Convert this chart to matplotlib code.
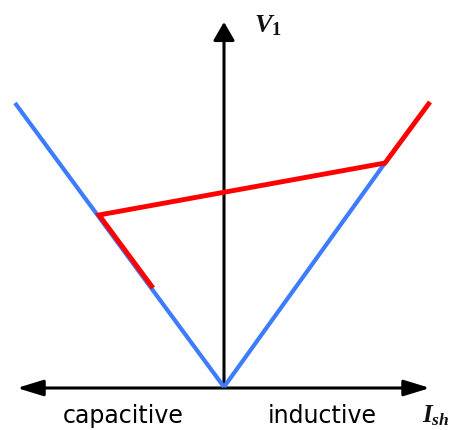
import matplotlib
matplotlib.use("Agg")
import matplotlib.pyplot as plt
from matplotlib.patches import FancyArrowPatch

plt.rcParams['mathtext.fontset'] = 'custom'
plt.rcParams['mathtext.it'] = 'Liberation Serif:italic:bold'
plt.rcParams['mathtext.rm'] = 'Liberation Serif:bold'

# characteristic lines (origin at the axes crossing)
blue_left_x = [0, -209]
blue_left_y = [0, 284]
blue_right_x = [0, 161]
blue_right_y = [0, 224]

red_x = [-71, -125, 161, 206]
red_y = [99, 172, 224, 285]

x_axis = (-207, 206)
y_axis_top = 365

fig = plt.figure(figsize=(4.73, 4.30), dpi=100)
ax = fig.add_axes([0, 0, 1, 1])
ax.set_xlim(-224, 249)
ax.set_ylim(-43, 387)
ax.axis('off')

# axes arrows
ax.add_patch(FancyArrowPatch((x_axis[0], -1), (x_axis[1], -1),
                             arrowstyle='<|-|>,head_length=0.88,head_width=0.27',
                             mutation_scale=18, color='black', lw=2.2,
                             shrinkA=0, shrinkB=0, zorder=1))
ax.add_patch(FancyArrowPatch((0, 0), (0, y_axis_top),
                             arrowstyle='-|>,head_length=0.62,head_width=0.36',
                             mutation_scale=18, color='black', lw=2.2,
                             shrinkA=0, shrinkB=0, zorder=1))

ax.plot(blue_left_x, blue_left_y, color='#3d7bff', lw=3, solid_capstyle='butt', zorder=2)
ax.plot(blue_right_x, blue_right_y, color='#3d7bff', lw=3, solid_capstyle='butt', zorder=2)
ax.plot(red_x, red_y, color='#ff0000', lw=3.5, solid_capstyle='butt', solid_joinstyle='miter', zorder=3)

ax.text(30, 362, r'$V_1$', fontsize=19, color='#111111', ha='left', va='center')
ax.text(198, -29, r'$I_{sh}$', fontsize=18, color='#111111', ha='left', va='center')
ax.text(-101, -29, 'capacitive', fontsize=17, ha='center', va='center')
ax.text(98, -29, 'inductive', fontsize=17, ha='center', va='center')

fig.savefig('out.png', dpi=100)
